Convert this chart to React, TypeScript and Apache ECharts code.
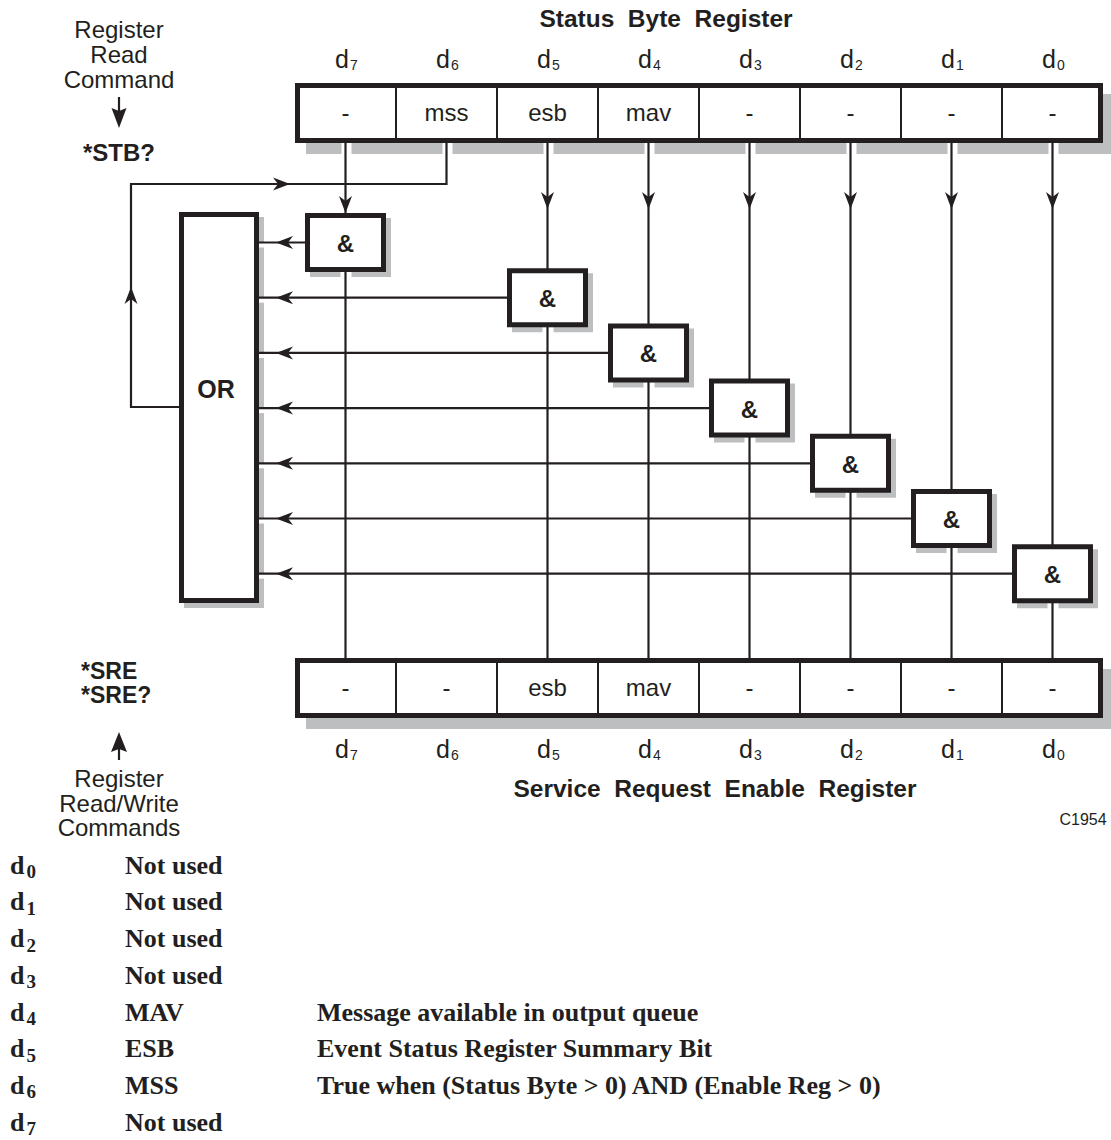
import React, { useEffect, useRef } from 'react';
import * as echarts from 'echarts';

// ---------- content ----------
const BIT_NUMBERS = [7, 6, 5, 4, 3, 2, 1, 0];
const STATUS_BYTE_CELLS = ['-', 'mss', 'esb', 'mav', '-', '-', '-', '-'];
const ENABLE_REG_CELLS = ['-', '-', 'esb', 'mav', '-', '-', '-', '-'];
const GATE_COLUMNS = [0, 2, 3, 4, 5, 6, 7];
const FEEDBACK_COLUMN = 1;
const GATE_LABEL = '&';
const OR_LABEL = 'OR';
const TOP_TITLE = 'Status  Byte  Register';
const BOTTOM_TITLE = 'Service  Request  Enable  Register';
const READ_CMD_LINES = ['Register', 'Read', 'Command'];
const READ_CMD = '*STB?';
const WRITE_CMDS = ['*SRE', '*SRE?'];
const WRITE_CMD_LINES = ['Register', 'Read/Write', 'Commands'];
const FIGURE_ID = 'C1954';
const LEGEND_BITS = [0, 1, 2, 3, 4, 5, 6, 7];
const LEGEND_NAMES = ['Not used', 'Not used', 'Not used', 'Not used', 'MAV', 'ESB', 'MSS', 'Not used'];
const LEGEND_DESCRIPTIONS = [
  '',
  '',
  '',
  '',
  'Message available in output queue',
  'Event Status Register Summary Bit',
  'True when (Status Byte > 0) AND (Enable Reg > 0)',
  '',
];

// ---------- styling / layout ----------
const INK = '#231f20';
const SHADE = '#bcbec0';
const SANS = '"Liberation Sans", Arial, Helvetica, sans-serif';
const SERIF = '"Liberation Serif", "Times New Roman", serif';
const REG_X = 295;
const CELL_W = 101;
const REG_H = 60;
const TOP_REG_Y = 83;
const BOT_REG_Y = 658;
const BORDER = 5;
const LINE_W = 2.2;
const REG_SHADOW = 11;
const BOX_SHADOW = 5;
const GATE_W = 81;
const GATE_H = 59;
const GATE_Y0 = 213;
const GATE_STEP = 55.2;
const OR_X = 179;
const OR_Y = 212;
const OR_W = 80;
const OR_H = 391;
const FEED_Y = 184;
const FEED_X = 131;
const FEED_IN_Y = 407;
const ARROW_TIP_Y = 209;
const LEFT_X = 119;

const colX = (i: number) => REG_X + CELL_W * (i + 0.5);

function text(t: string, x: number, y: number, size: number, o: any = {}) {
  const align = o.align || 'center';
  const style: any = {
    text: t,
    fill: INK,
    fontSize: size,
    fontFamily: o.family || SANS,
    fontWeight: o.bold ? 'bold' : 'normal',
    align,
    verticalAlign: 'middle',
    textAlign: align,
    textVerticalAlign: 'middle',
  };
  return { type: 'text', x, y, z: 6, silent: true, style };
}

function line(x1: number, y1: number, x2: number, y2: number) {
  return { type: 'line', z: 3, silent: true, shape: { x1, y1, x2, y2 }, style: { stroke: INK, lineWidth: LINE_W } };
}

function rect(x: number, y: number, w: number, h: number, fill: string, z: number, stroke?: string, lw?: number) {
  return {
    type: 'rect',
    z,
    silent: true,
    shape: { x, y, width: w, height: h },
    style: stroke ? { fill, stroke, lineWidth: lw } : { fill },
  };
}

// outer-bounds box with a thick border
function box(ox: number, oy: number, w: number, h: number, lw: number) {
  return rect(ox + lw / 2, oy + lw / 2, w - lw, h - lw, '#ffffff', 5, INK, lw);
}

function arrow(tx: number, ty: number, dir: string, L = 17, W = 6.5, N = 5) {
  let pts: number[][];
  if (dir === 'down') pts = [[tx, ty], [tx - W, ty - L], [tx, ty - L + N], [tx + W, ty - L]];
  else if (dir === 'up') pts = [[tx, ty], [tx - W, ty + L], [tx, ty + L - N], [tx + W, ty + L]];
  else if (dir === 'left') pts = [[tx, ty], [tx + L, ty - W], [tx + L - N, ty], [tx + L, ty + W]];
  else pts = [[tx, ty], [tx - L, ty - W], [tx - L + N, ty], [tx - L, ty + W]];
  return { type: 'polygon', z: 4, silent: true, shape: { points: pts }, style: { fill: INK } };
}

function buildElements() {
  const els: any[] = [];
  const regW = CELL_W * BIT_NUMBERS.length;

  // ---- registers ----
  const registers = [
    { y: TOP_REG_Y, cells: STATUS_BYTE_CELLS },
    { y: BOT_REG_Y, cells: ENABLE_REG_CELLS },
  ];
  registers.forEach((r) => {
    els.push(rect(REG_X + REG_SHADOW, r.y + REG_SHADOW, regW, REG_H, SHADE, 1));
    els.push(box(REG_X, r.y, regW, REG_H, BORDER));
    for (let k = 1; k < BIT_NUMBERS.length; k++) {
      const x = REG_X + CELL_W * k;
      els.push({ type: 'line', z: 5.5, silent: true, shape: { x1: x, y1: r.y + BORDER, x2: x, y2: r.y + REG_H - BORDER }, style: { stroke: INK, lineWidth: 2 } });
    }
    r.cells.forEach((c, i) => els.push(text(c, colX(i), r.y + REG_H / 2 - 1, 24)));
  });

  // bit labels above and below
  BIT_NUMBERS.forEach((b, i) => {
    const cx = colX(i);
    [59.3, 749.3].forEach((yy) => {
      els.push(text('d', cx + 3.5, yy, 25, { align: 'right' }));
      els.push(text(String(b), cx + 4.5, yy + 5.3, 14, { align: 'left' }));
    });
  });

  // halos on top register shadow
  BIT_NUMBERS.forEach((_, i) => {
    els.push(rect(colX(i) - 4, TOP_REG_Y + REG_H, 10, REG_SHADOW + 1, '#ffffff', 2));
  });

  // ---- OR box ----
  els.push(rect(OR_X + BOX_SHADOW, OR_Y + BOX_SHADOW, OR_W, OR_H, SHADE, 1));
  els.push(box(OR_X, OR_Y, OR_W, OR_H, BORDER));
  els.push(text(OR_LABEL, OR_X + OR_W / 2 - 3, 389, 25, { bold: true }));

  // ---- gates ----
  GATE_COLUMNS.forEach((ci, k) => {
    const cx = colX(ci);
    const gx = cx - GATE_W / 2;
    const gy = GATE_Y0 + GATE_STEP * k;
    const cy = gy + GATE_H / 2;
    els.push(rect(gx + BOX_SHADOW, gy + BOX_SHADOW, GATE_W, GATE_H, SHADE, 1));
    els.push(box(gx, gy, GATE_W, GATE_H, BORDER));
    els.push(text(GATE_LABEL, cx, cy + 1, 24, { bold: true }));
    // halo on gate bottom shadow
    els.push(rect(cx - 5, gy + GATE_H, 11, BOX_SHADOW + 1, '#ffffff', 2));
    // vertical line from status byte register to gate
    els.push(line(cx, TOP_REG_Y + REG_H - 1, cx, gy + 1));
    if (k === 0) els.push(arrow(cx, gy, 'down'));
    else els.push(arrow(cx, ARROW_TIP_Y, 'down'));
    // vertical line from gate to enable register
    els.push(line(cx, gy + GATE_H - 1, cx, BOT_REG_Y + 1));
    // horizontal output to OR
    els.push(line(gx + 1, cy, OR_X + OR_W - 1, cy));
    els.push(arrow(OR_X + OR_W + 17, cy, 'left'));
    // halo on OR shadow below line
    els.push(rect(OR_X + OR_W, cy, BOX_SHADOW + 2, 5, '#ffffff', 2));
  });

  // ---- feedback (mss) ----
  const fx = colX(FEEDBACK_COLUMN);
  els.push({
    type: 'polyline',
    z: 3,
    silent: true,
    shape: { points: [[fx, TOP_REG_Y + REG_H - 1], [fx, FEED_Y], [FEED_X, FEED_Y], [FEED_X, FEED_IN_Y], [OR_X + 1, FEED_IN_Y]] },
    style: { stroke: INK, lineWidth: LINE_W, fill: null },
  });
  els.push(arrow(290, FEED_Y, 'right'));
  els.push(arrow(FEED_X, 287, 'up'));

  // ---- titles ----
  els.push(text(TOP_TITLE, 666, 18, 24.5, { bold: true }));
  els.push(text(BOTTOM_TITLE, 715, 788, 24.5, { bold: true }));
  els.push(text(FIGURE_ID, 1083, 819, 16));

  // ---- left annotations ----
  READ_CMD_LINES.forEach((t, i) => els.push(text(t, LEFT_X, 29.5 + 25 * i, 24)));
  els.push(line(LEFT_X, 97, LEFT_X, 112));
  els.push(arrow(LEFT_X, 128, 'down', 20, 7.5, 3));
  els.push(text(READ_CMD, LEFT_X, 152, 24, { bold: true }));

  WRITE_CMDS.forEach((t, i) => els.push(text(t, 81, 671 + 24 * i, 23, { bold: true, align: 'left' })));
  els.push(arrow(LEFT_X, 732, 'up', 20, 8, 3));
  els.push(line(LEFT_X, 748, LEFT_X, 760));
  WRITE_CMD_LINES.forEach((t, i) => els.push(text(t, LEFT_X, 778.5 + 24.5 * i, 24)));

  // ---- legend ----
  LEGEND_BITS.forEach((b, i) => {
    const base = 874 + 36.7 * i;
    const mid = base - 8.8;
    els.push(text('d', 10, mid, 26, { family: SERIF, bold: true, align: 'left' }));
    els.push(text(String(b), 26.5, base - 2.4, 19, { family: SERIF, bold: true, align: 'left' }));
    els.push(text(LEGEND_NAMES[i], 125, mid, 26, { family: SERIF, bold: true, align: 'left' }));
    if (LEGEND_DESCRIPTIONS[i]) els.push(text(LEGEND_DESCRIPTIONS[i], 317, mid, 26, { family: SERIF, bold: true, align: 'left' }));
  });

  return els;
}

export default function App() {
  const ref = useRef<HTMLDivElement>(null);
  useEffect(() => {
    if (!ref.current) return;
    const chart = echarts.init(ref.current, undefined, { renderer: 'svg' });
    chart.setOption({
      animation: false,
      backgroundColor: '#ffffff',
      graphic: { elements: buildElements() },
    });
    return () => chart.dispose();
  }, []);
  return (
    <div
      ref={ref}
      style={{ position: 'absolute', left: 0, top: 0, width: 1111, height: 1140, background: '#ffffff' }}
    />
  );
}
